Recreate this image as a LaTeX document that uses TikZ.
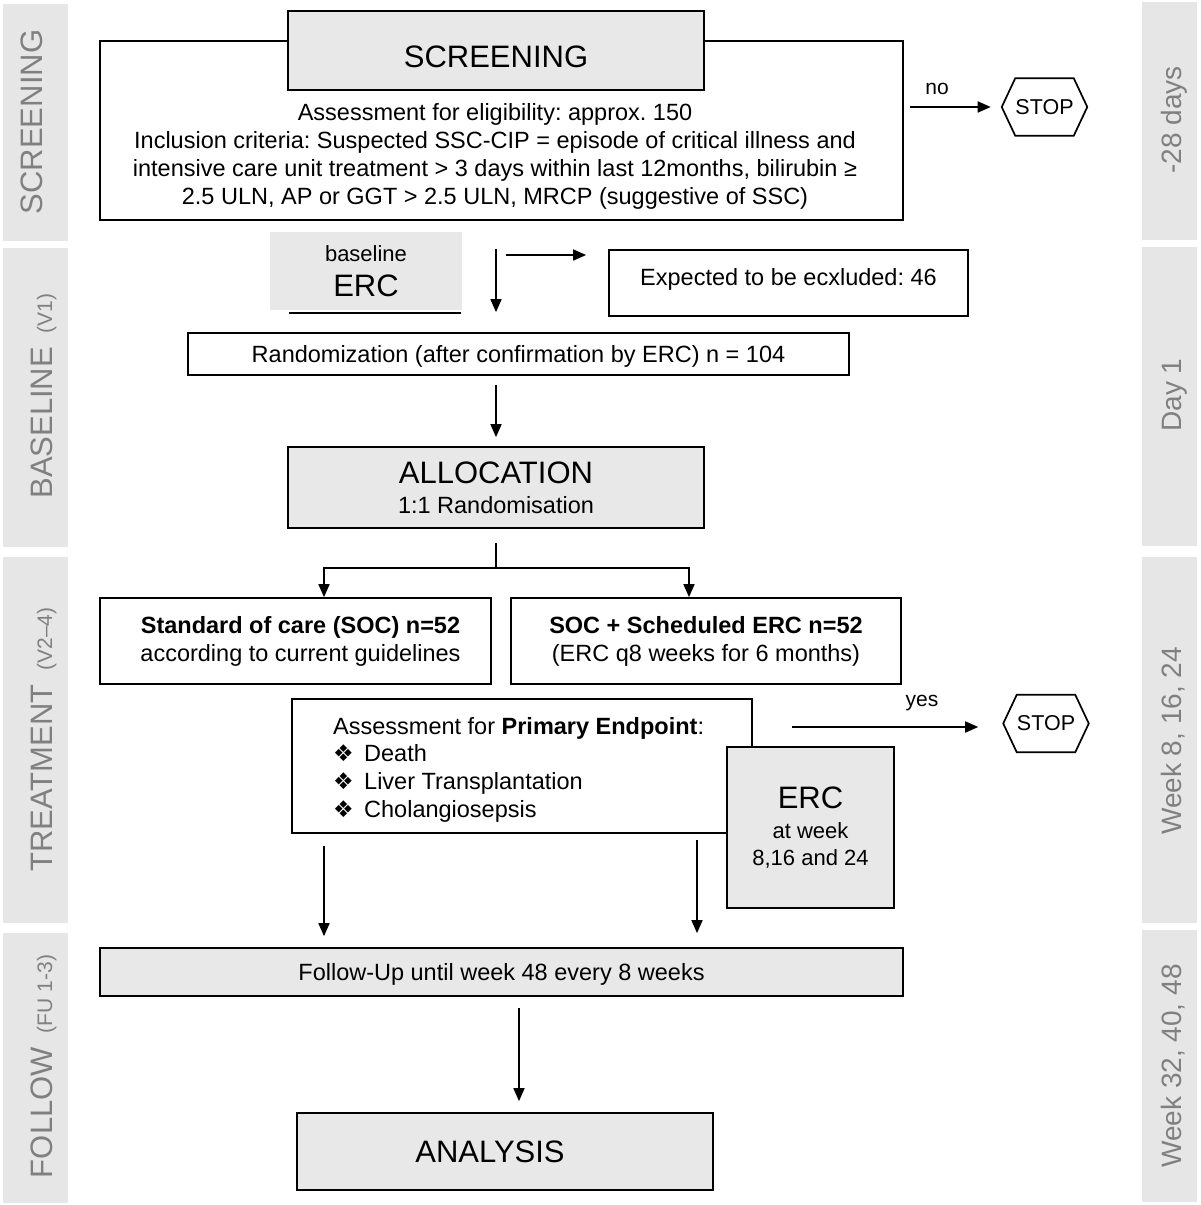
\documentclass[tikz,border=0pt]{standalone}
\usepackage{fontspec}
\setmainfont{Liberation Sans}
\newfontfamily\dejavu{DejaVu Sans}
\usetikzlibrary{arrows.meta}
\definecolor{boxgray}{RGB}{232,232,232}
\definecolor{bargray}{RGB}{230,230,230}
\definecolor{sidegray}{RGB}{128,128,128}
\newcommand{\myfs}[2]{\fontsize{#1}{#2}\selectfont}
\newcommand{\mybul}{\makebox[31pt][l]{\dejavu\myfs{23}{23}❖}}
\frenchspacing
\begin{document}
\begin{tikzpicture}[x=1pt,y=-1pt,
 box/.style={draw, line width=1.7pt, inner sep=0pt, font=\myfs{23.5}{28}, align=center},
 gbox/.style={box, fill=boxgray},
 conn/.style={line width=1.7pt},
 arr/.style={conn, -{Triangle[length=13pt,width=11pt]}},
 arrboth/.style={conn, {Triangle[length=13pt,width=11pt]}-{Triangle[length=13pt,width=11pt]}},
 bar/.style={fill=bargray},
 sidetxt/.style={rotate=90, anchor=base, text=sidegray, inner sep=0pt, font=\myfs{31}{31}},
 daytxt/.style={sidetxt, font=\myfs{28}{28}},
 lbl/.style={inner sep=0pt, font=\myfs{21}{21}},
 hexa/.style={inner sep=0pt, minimum width=58pt, minimum height=57pt, font=\myfs{21.5}{21.5}},
]
\useasboundingbox (0,0) rectangle (1200,1205);

% side bars
\fill[bar] (3,4) rectangle (68,241);
\fill[bar] (3,248) rectangle (68,547);
\fill[bar] (3,557) rectangle (68,923);
\fill[bar] (3,933) rectangle (68,1203);
\fill[bar] (1142,2) rectangle (1197,240);
\fill[bar] (1142,247) rectangle (1197,546);
\fill[bar] (1142,557) rectangle (1197,923);
\fill[bar] (1142,930) rectangle (1197,1202);

\node[sidetxt] (tS) at (42,122) {SCREENING};
\node[sidetxt] (tB) at (52,396) {BASELINE\hspace{14pt}{\myfs{21}{21}(V1)}};
\node[sidetxt] (tT) at (52,739.5) {TREATMENT\hspace{14pt}{\myfs{21}{21}(V2–4)}};
\node[sidetxt] (tF) at (52,1066.5) {FOLLOW\hspace{14pt}{\myfs{21}{21}(FU 1-3)}};
\node[daytxt] (d1) at (1181,120) {-28 days};
\node[daytxt] (d2) at (1181,395) {Day 1};
\node[daytxt] (d3) at (1181,741) {Week 8, 16, 24};
\node[daytxt] (d4) at (1181,1066) {Week 32, 40, 48};

% screening
\node[box, minimum width=803pt, minimum height=179pt] (scr) at (501.5,130.5) {};
\node[gbox, minimum width=416pt, minimum height=79pt, font=\myfs{31}{31}, text height=33pt, text depth=0pt] (scrh) at (496,50.5) {SCREENING};
\node[inner sep=0pt, align=center, font=\myfs{23.5}{28}] (scrtxt) at (495,156) {Assessment for eligibility: approx. 150\\
Inclusion criteria: Suspected SSC-CIP = episode of critical illness and\\
intensive care unit treatment > 3 days within last 12months, bilirubin ≥\\
2.5 ULN, AP or GGT > 2.5 ULN, MRCP (suggestive of SSC)};

% stop 1
\node[hexa] (stop1) at (1044.5,107) {STOP};
\draw[conn] ([xshift=-13.5pt]stop1.west) -- (stop1.north west) -- (stop1.north east) -- ([xshift=13.5pt]stop1.east) -- (stop1.south east) -- (stop1.south west) -- cycle;
\coordinate (nos) at (910,107);
\draw[arr] (nos) -- ([xshift=-24.5pt]stop1.west);
\node[lbl] (nolbl) at (937,89) {no};

% baseline ERC
\node[fill=boxgray, inner sep=0pt, minimum width=192pt, minimum height=78pt, align=center, font=\myfs{22}{35}] (berc) at (366,271) {baseline\\{\myfs{31}{31}ERC}};
\draw[conn] ([xshift=19pt,yshift=-3pt]berc.south west) -- ([xshift=-1pt,yshift=-3pt]berc.south east);

% excluded
\node[box, minimum width=359pt, minimum height=66pt, text height=17pt, text depth=12pt] (excl) at (788.5,283) {Expected to be ecxluded: 46};
\coordinate (exs) at (506,255);
\draw[arr, shorten >=22pt] (exs) -- (exs -| excl.west);

% randomization
\node[box, minimum width=661pt, minimum height=42pt, text height=17pt, text depth=0pt] (rand) at (518.5,354) {Randomization (after confirmation by ERC) n = 104};

% allocation
\node[gbox, minimum width=416pt, minimum height=81pt, font=\myfs{23.5}{30}] (alloc) at (496,487.5) {{\myfs{31}{31}ALLOCATION}\\1:1 Randomisation};

\draw[arr, shorten <=28pt, shorten >=20pt] (scr.south -| alloc.north) -- (rand.north -| alloc.north);
\draw[arr, shorten <=9pt, shorten >=9pt] (rand.south -| alloc.north) -- (alloc.north);

% arms
\node[box, minimum width=391pt, minimum height=86pt] (soc) at (295.5,641) {\hspace*{10pt}\textbf{Standard of care (SOC) n=52}\\\hspace*{10pt}according to current guidelines};
\node[box, minimum width=390pt, minimum height=86pt] (soc2) at (706,641) {\textbf{SOC + Scheduled ERC n=52}\\(ERC q8 weeks for 6 months)};

\coordinate (br) at (496,568);
\coordinate (bl) at (324,568);
\coordinate (bR) at (689,568);
\draw[conn, shorten <=14pt] (alloc.south) -- (br);
\draw[arrboth] (bl |- soc.north) -- (bl) -- (bR) -- (bR |- soc2.north);

% assessment
\node[box, minimum width=460pt, minimum height=134pt] (assess) at (522,766) {};
\node[inner sep=0pt, anchor=north west, align=left, font=\myfs{23.5}{27.7}] (asstxt) at (333,717) {Assessment for \textbf{Primary Endpoint}:\\\mybul Death\\\mybul Liver Transplantation\\\mybul Cholangiosepsis};

\node[gbox, minimum width=167pt, minimum height=161pt, font=\myfs{22}{27}] (erc2) at (810.5,827.5) {{\myfs{31}{31}ERC}\\[3pt]at week\\8,16 and 24};

% stop 2
\node[hexa, minimum width=57pt] (stop2) at (1046,723.5) {STOP};
\draw[conn] ([xshift=-13.5pt]stop2.west) -- (stop2.north west) -- (stop2.north east) -- ([xshift=13.5pt]stop2.east) -- (stop2.south east) -- (stop2.south west) -- cycle;
\coordinate (ys) at (792,727);
\draw[arr, shorten >=38.5pt] (ys) -- (ys -| stop2.west);
\node[lbl] (yeslbl) at (922,703) {yes};

% follow-up
\node[gbox, minimum width=803pt, minimum height=48pt, text height=17pt, text depth=0pt] (fu) at (501.5,972) {Follow-Up until week 48 every 8 weeks};
\draw[arr, shorten <=12pt, shorten >=11pt] (assess.south -| bl) -- (fu.north -| bl);
\coordinate (x697) at (697,840);
\draw[arr, shorten >=14pt] (x697) -- (x697 |- fu.north);

% analysis
\node[gbox, minimum width=416pt, minimum height=77pt, font=\myfs{31}{31}, text height=22pt, text depth=0pt] (ana) at (505,1151.5) {ANALYSIS\hspace*{30pt}};
\coordinate (xfa) at (519,0);
\draw[arr, shorten <=11pt, shorten >=11pt] (fu.south -| xfa) -- (ana.north -| xfa);
\end{tikzpicture}
\end{document}
